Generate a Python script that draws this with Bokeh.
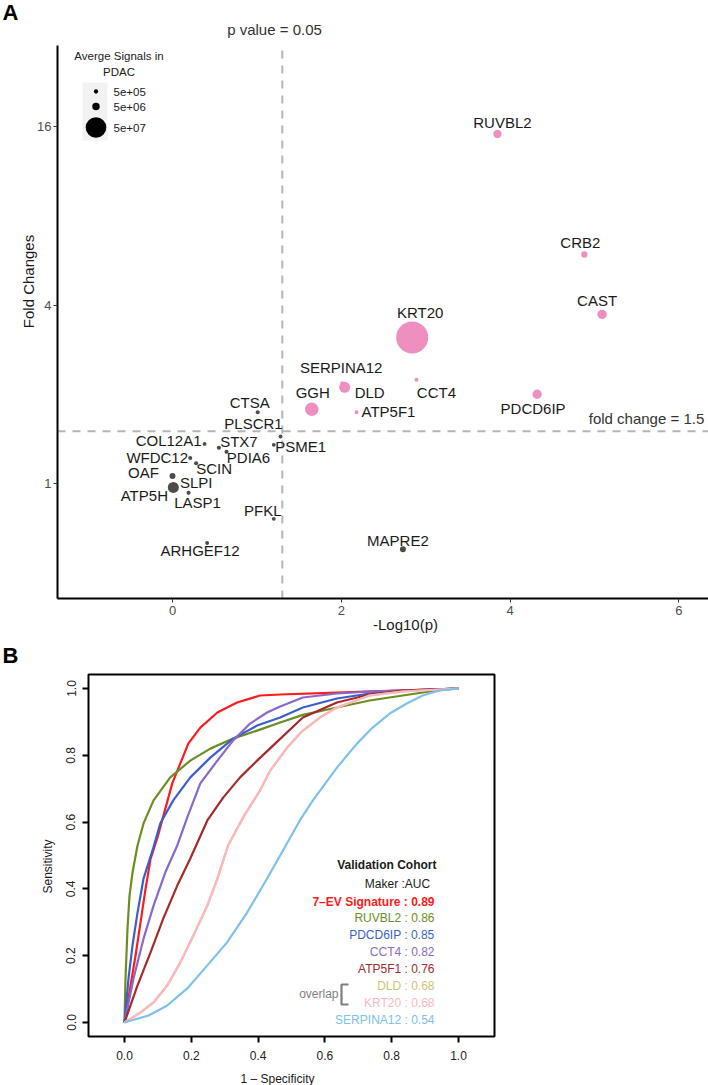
import math
from bokeh.plotting import figure
from bokeh.models import (Label, FixedTicker, PrintfTickFormatter, BasicTickFormatter,
                          Range1d, ColumnDataSource, LinearAxis, LogAxis)
from bokeh.layouts import column
from bokeh.embed import file_html
from bokeh.resources import INLINE
from bokeh.core.properties import value

# ---------------- Panel A data ----------------
genes = ["RUVBL2", "CRB2", "CAST", "KRT20", "SERPINA12", "DLD", "CCT4", "ATP5F1", "GGH",
         "PDCD6IP", "MAPRE2", "CTSA", "PLSCR1", "COL12A1", "STX7", "PDIA6", "PSME1",
         "WFDC12", "SCIN", "OAF", "SLPI", "ATP5H", "LASP1", "PFKL", "ARHGEF12"]
neg_log10_p = [3.85, 4.88, 5.09, 2.84, 2.01, 2.04, 2.89, 2.18, 1.65,
               4.32, 2.73, 1.01, 1.28, 0.38, 0.55, 0.64, 1.20,
               0.21, 0.28, 0.00, 0.02, 0.01, 0.19, 1.20, 0.41]
fold_change = [15.1, 5.92, 3.72, 3.11, 2.18, 2.11, 2.24, 1.74, 1.78,
               2.00, 0.60, 1.74, 1.44, 1.36, 1.32, 1.28, 1.35,
               1.22, 1.17, 1.06, 0.985, 0.97, 0.93, 0.76, 0.63]
avg_signal = [6.6e6, 3.1e6, 8.8e6, 1.22e8, 1.5e5, 1.3e7, 2.0e5, 2.5e5, 2.0e7,
              8.8e6, 2.6e6, 3.0e5, 1.0e5, 5.0e4, 4.0e5, 3.0e5, 1.0e5,
              2.0e5, 3.0e5, 2.6e6, 5.0e5, 1.3e7, 3.0e5, 1.0e5, 1.0e5]
size_breaks = [5e5, 5e6, 5e7]
size_break_labels = ["5e+05", "5e+06", "5e+07"]
p_cut = 0.05
fc_cut = 1.5
xticks_A = [0, 2, 4, 6]
yticks_A = [1, 4, 16]

# ---------------- Panel B data (ROC curves) ----------------
markers = ["7–EV Signature", "RUVBL2", "PDCD6IP", "CCT4", "ATP5F1", "DLD", "KRT20", "SERPINA12"]
auc = [0.89, 0.86, 0.85, 0.82, 0.76, 0.68, 0.68, 0.54]

sig7_fpr = [0, 0.018, 0.033, 0.048, 0.063, 0.078, 0.099, 0.143, 0.191, 0.227, 0.278, 0.337, 0.406, 0.466, 0.70, 1.0]
sig7_sens = [0, 0.11, 0.20, 0.30, 0.40, 0.49, 0.555, 0.716, 0.835, 0.883, 0.928, 0.958, 0.979, 0.982, 0.99, 1.0]

ruvbl2_fpr = [0, 0.003, 0.009, 0.015, 0.024, 0.039, 0.057, 0.087, 0.137, 0.197, 0.257, 0.325, 0.397, 0.466, 0.534, 0.636, 0.734, 0.833, 0.934, 1.0]
ruvbl2_sens = [0, 0.132, 0.281, 0.380, 0.449, 0.530, 0.596, 0.665, 0.734, 0.784, 0.820, 0.850, 0.874, 0.898, 0.921, 0.943, 0.964, 0.979, 0.994, 1.0]

pdcd6ip_fpr = [0, 0.012, 0.024, 0.039, 0.057, 0.086, 0.107, 0.146, 0.197, 0.257, 0.325, 0.397, 0.466, 0.534, 0.636, 0.734, 0.833, 1.0]
pdcd6ip_sens = [0, 0.132, 0.231, 0.329, 0.431, 0.522, 0.596, 0.665, 0.734, 0.793, 0.850, 0.889, 0.913, 0.943, 0.970, 0.985, 0.994, 1.0]

cct4_fpr = [0, 0.027, 0.057, 0.087, 0.122, 0.158, 0.188, 0.227, 0.278, 0.325, 0.376, 0.427, 0.466, 0.534, 0.636, 0.734, 1.0]
cct4_sens = [0, 0.132, 0.251, 0.350, 0.449, 0.530, 0.614, 0.716, 0.784, 0.844, 0.895, 0.928, 0.946, 0.973, 0.985, 0.991, 1.0]

atp5f1_fpr = [0, 0.039, 0.078, 0.116, 0.158, 0.197, 0.248, 0.296, 0.346, 0.397, 0.451, 0.534, 0.636, 0.734, 0.833, 1.0]
atp5f1_sens = [0, 0.111, 0.210, 0.311, 0.410, 0.491, 0.605, 0.674, 0.734, 0.784, 0.835, 0.913, 0.958, 0.982, 0.994, 1.0]

dld_fpr = [0, 0.048, 0.087, 0.128, 0.167, 0.206, 0.248, 0.278, 0.310, 0.355, 0.406, 0.436, 0.487, 0.534, 0.585, 0.636, 0.734, 0.833, 1.0]
dld_sens = [0, 0.030, 0.060, 0.111, 0.180, 0.260, 0.350, 0.431, 0.530, 0.614, 0.695, 0.754, 0.823, 0.874, 0.913, 0.943, 0.979, 0.991, 1.0]

krt20_fpr = [0, 0.048, 0.087, 0.128, 0.167, 0.206, 0.248, 0.278, 0.310, 0.355, 0.406, 0.436, 0.487, 0.534, 0.585, 0.636, 0.734, 0.833, 1.0]
krt20_sens = [0, 0.030, 0.060, 0.111, 0.180, 0.260, 0.350, 0.431, 0.530, 0.614, 0.695, 0.754, 0.823, 0.874, 0.913, 0.943, 0.979, 0.991, 1.0]

serpina12_fpr = [0, 0.072, 0.128, 0.188, 0.248, 0.307, 0.367, 0.427, 0.466, 0.525, 0.564, 0.636, 0.696, 0.743, 0.794, 0.845, 0.893, 0.943, 1.0]
serpina12_sens = [0, 0.021, 0.051, 0.102, 0.171, 0.240, 0.329, 0.431, 0.500, 0.605, 0.665, 0.763, 0.835, 0.883, 0.925, 0.955, 0.979, 0.994, 1.0]

roc_fpr = [sig7_fpr, ruvbl2_fpr, pdcd6ip_fpr, cct4_fpr, atp5f1_fpr, dld_fpr, krt20_fpr, serpina12_fpr]
roc_sens = [sig7_sens, ruvbl2_sens, pdcd6ip_sens, cct4_sens, atp5f1_sens, dld_sens, krt20_sens, serpina12_sens]
roc_colors = ["#FF1A1A", "#6B8E23", "#3A5FCD", "#8968CD", "#A52A2A", "#CDC673", "#FFB6C1", "#7EC0EE"]
ticks_B = [0.0, 0.2, 0.4, 0.6, 0.8, 1.0]

FONT = "Liberation Sans"

# ---------------- layout helpers: page pixel -> data (layout only) ----------------
A_TOP, A_H = 0, 640
B_TOP, B_H = 640, 445
W = 708

def ax(px):
    return (px - 172.0) / 84.4

def ay(py):
    return 2.0 ** ((483.0 - py) / 89.25)

def bx(px):
    return (px - 124.0) / 334.0

def by(py):
    return (1022.0 - py) / 334.0

def size_of(v):
    return math.sqrt(14.4 + 8.27e-6 * v)

def style_axis(axis, font_size, color, tick_out, tick_w, standoff):
    axis.major_tick_out = tick_out
    axis.major_tick_in = 0
    axis.major_tick_line_width = tick_w
    axis.minor_tick_line_color = None
    axis.major_label_text_font = FONT
    axis.major_label_text_font_size = font_size
    axis.major_label_text_color = color
    axis.major_label_standoff = standoff

# ---------------- Panel A ----------------
pA = figure(frame_width=W, frame_height=A_H, min_border=0,
            x_range=Range1d(ax(0), ax(W)), y_range=Range1d(ay(A_TOP + A_H), ay(A_TOP)),
            y_axis_type="log", x_axis_location=None, y_axis_location=None,
            output_backend="svg", toolbar_location=None)
pA.outline_line_color = None
pA.grid.visible = False

panel_l, panel_r, panel_t, panel_b = ax(57), ax(708), ay(45), ay(598)

yaxA = LogAxis(fixed_location=panel_l, bounds=(panel_b, panel_t),
               ticker=FixedTicker(ticks=yticks_A))
yaxA.major_label_overrides = {t: str(t) for t in yticks_A}
style_axis(yaxA, "13px", "#4D4D4D", 4, 1, 2)
yaxA.axis_line_color = "black"
yaxA.axis_line_width = 2
yaxA.major_tick_line_color = "#333333"
pA.add_layout(yaxA, "left")

xaxA = LinearAxis(fixed_location=panel_b, bounds=(panel_l, panel_r),
                  ticker=FixedTicker(ticks=xticks_A), formatter=BasicTickFormatter())
style_axis(xaxA, "13px", "#4D4D4D", 4, 1, 3)
xaxA.axis_line_color = "black"
xaxA.axis_line_width = 2
xaxA.major_tick_line_color = "#333333"
pA.add_layout(xaxA, "below")

sig_line = -math.log10(p_cut)
pA.segment(x0=[sig_line], y0=[panel_b], x1=[sig_line], y1=[panel_t],
           line_color="#B5B5B5", line_width=2, line_dash="8 7")
pA.segment(x0=[panel_l], y0=[fc_cut], x1=[panel_r], y1=[fc_cut],
           line_color="#B5B5B5", line_width=2, line_dash="8 7")

# label offsets (screen px) for repelled gene labels
label_off = {
    "RUVBL2": (5, -11), "CRB2": (-4, -12), "CAST": (-5, -14), "KRT20": (8, -25),
    "SERPINA12": (-1, -16), "DLD": (25, 5), "CCT4": (20, 13), "ATP5F1": (32, -1),
    "GGH": (1, -17), "PDCD6IP": (-4, 14), "MAPRE2": (-5, -9), "CTSA": (-8, -10),
    "PLSCR1": (-27, -13), "COL12A1": (-36, -3), "STX7": (20, -6), "PDIA6": (22, 6),
    "PSME1": (27, 2), "WFDC12": (-33, 0), "SCIN": (18, 5), "OAF": (-29, -3),
    "SLPI": (22, -3), "ATP5H": (-29, 8), "LASP1": (9, 10), "PFKL": (-11, -8),
    "ARHGEF12": (-7, 8),
}

colors = ["#EF8FC0" if (xv > sig_line and fv > fc_cut) else "#4F4B4B"
          for xv, fv in zip(neg_log10_p, fold_change)]
sizes = [size_of(v) for v in avg_signal]
order = sorted(range(len(genes)), key=lambda i: -sizes[i])
srcA = ColumnDataSource(dict(
    x=[neg_log10_p[i] for i in order], y=[fold_change[i] for i in order],
    s=[sizes[i] for i in order], c=[colors[i] for i in order],
    g=[genes[i] for i in order],
    dx=[label_off[genes[i]][0] for i in order], dy=[label_off[genes[i]][1] for i in order]))
pA.scatter("x", "y", size="s", fill_color="c", line_color=None, source=srcA)
pA.text("x", "y", text="g", x_offset="dx", y_offset="dy", source=srcA,
        text_align="center", text_baseline="middle", text_font=value(FONT),
        text_font_size="15px", text_color="#1A1A1A")

# size legend
pA.quad(left=[ax(82)], right=[ax(107)], top=[ay(82)], bottom=[ay(140)],
        fill_color="#F2F2F2", line_color=None)
key_y = [91, 106, 127]
pA.scatter([ax(95.5)] * 3, [ay(v) for v in key_y], size=[size_of(b) for b in size_breaks],
           fill_color="black", line_color=None)

def labA(px, py, text, size="15px", align="center", color="#1A1A1A", angle=0.0, style="normal"):
    pA.add_layout(Label(x=ax(px), y=ay(py), text=text, text_align=align, text_baseline="middle",
                        angle=angle, text_font=FONT, text_font_size=size, text_color=color,
                        text_font_style=style))

for lab, yy in zip(size_break_labels, key_y):
    labA(113, yy, lab, size="11.5px", align="left")
labA(118.5, 55, "Averge Signals in", size="11.5px")
labA(118.5, 71, "PDAC", size="11.5px")
labA(274, 29, "p value = 0.05", color="#333333")
labA(646, 418, "fold change = 1.5", color="#333333")
labA(28, 281, "Fold Changes", angle=math.pi / 2)
labA(405, 624, "-Log10(p)")
labA(10, 12, "A", size="22px", color="black", style="bold")

# ---------------- Panel B ----------------
pB = figure(frame_width=W, frame_height=B_H, min_border=0,
            x_range=Range1d(bx(0), bx(W)), y_range=Range1d(by(B_TOP + B_H), by(B_TOP)),
            x_axis_location=None, y_axis_location=None,
            output_backend="svg", toolbar_location=None)
pB.outline_line_color = None
pB.grid.visible = False

box_l, box_r, box_t, box_b = bx(88), bx(494), by(674), by(1036)
xaxB = LinearAxis(fixed_location=box_b, bounds=(ticks_B[0], ticks_B[-1]),
                  ticker=FixedTicker(ticks=ticks_B), formatter=PrintfTickFormatter(format="%.1f"))
yaxB = LinearAxis(fixed_location=box_l, bounds=(ticks_B[0], ticks_B[-1]),
                  ticker=FixedTicker(ticks=ticks_B), formatter=PrintfTickFormatter(format="%.1f"))
for axis, so in ((xaxB, 8), (yaxB, 7)):
    style_axis(axis, "12px", "#222222", 6, 2, so)
    axis.axis_line_color = None
    axis.major_tick_line_color = "black"
yaxB.major_label_orientation = "vertical"
pB.add_layout(xaxB, "below")
pB.add_layout(yaxB, "left")

pB.quad(left=[box_l], right=[box_r], top=[box_t], bottom=[box_b],
        fill_color=None, line_color="black", line_width=2)

for fx, sy, col in zip(roc_fpr, roc_sens, roc_colors):
    pB.line(fx, sy, line_color=col, line_width=2.2, line_join="round")

def labB(px, py, text, size="12px", align="center", color="#1A1A1A", angle=0.0, style="normal"):
    pB.add_layout(Label(x=bx(px), y=by(py), text=text, text_align=align, text_baseline="middle",
                        angle=angle, text_font=FONT, text_font_size=size, text_color=color,
                        text_font_style=style))

labB(436, 864, "Validation Cohort", align="right", style="bold")
labB(433, 883, "Maker  :AUC", align="right")
for i, (m, a, col) in enumerate(zip(markers, auc, roc_colors)):
    labB(434, 901 + i * 16.9, f"{m} : {a:.2f}", align="right", color=col,
         style="bold" if i == 0 else "normal")
labB(338, 993, "overlap", align="right", color="#7F7F7F")
pB.line([bx(348), bx(341), bx(341), bx(348)], [by(984), by(984), by(1004), by(1004)],
        line_color="#7F7F7F", line_width=2.2)
labB(47, 866, "Sensitivity", angle=math.pi / 2)
labB(277, 1078, "1 – Specificity")
labB(10, 655, "B", size="22px", color="black", style="bold")

layout = column(pA, pB, spacing=0)
open("out.html", "w").write(file_html(layout, INLINE))
